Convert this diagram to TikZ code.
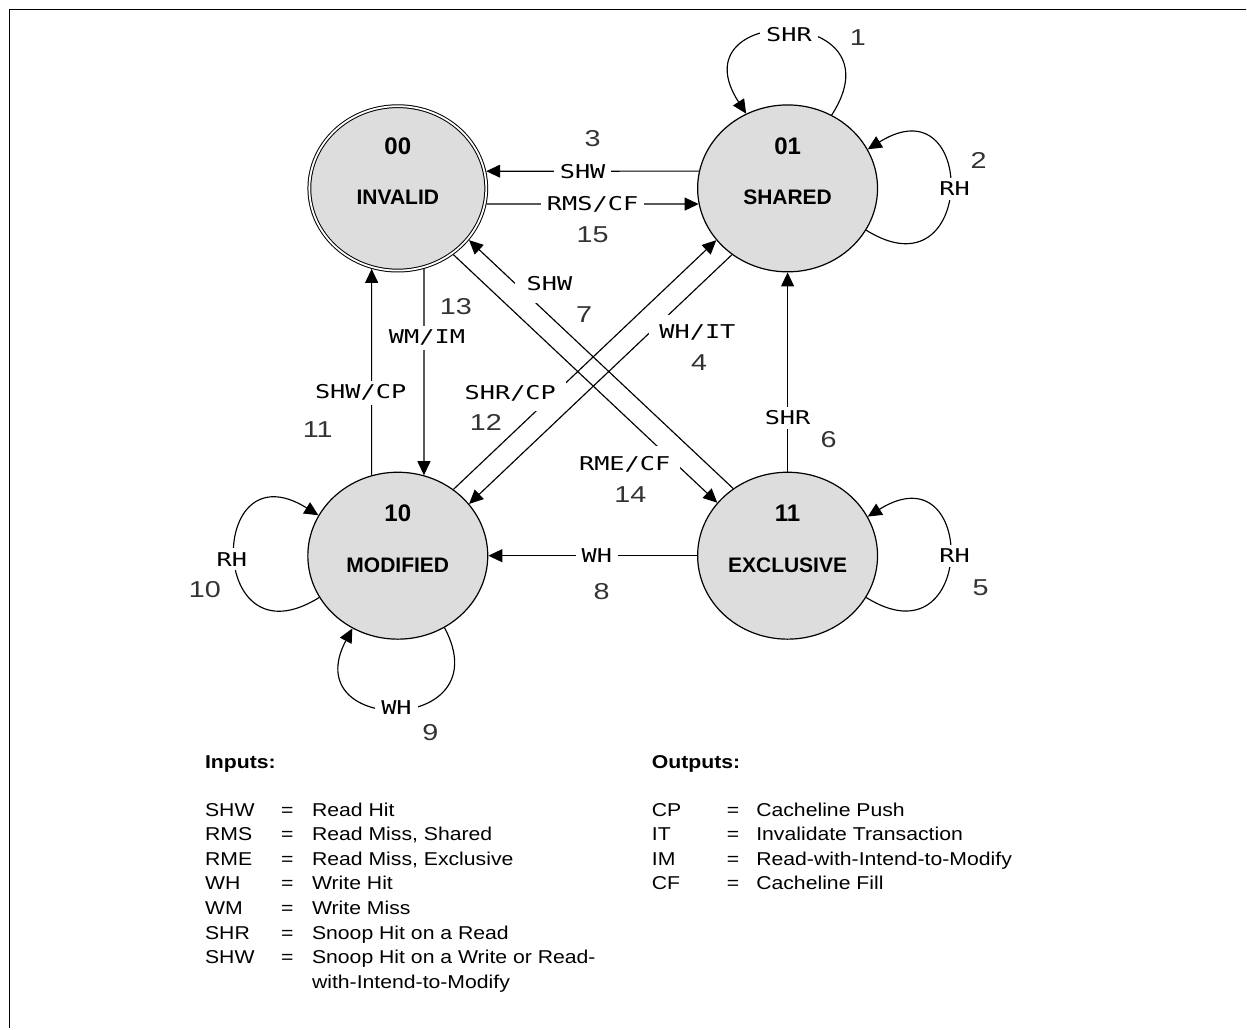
\documentclass[tikz,border=0pt]{standalone}
\usepackage{fontspec}
\setmainfont{Liberation Sans}
\newfontfamily\trfont[FakeStretch=1.33]{DejaVu Sans Mono}
\newfontfamily\nrfont[FakeStretch=1.25]{Liberation Sans}
\newfontfamily\lgfont[FakeStretch=1.14]{Liberation Sans}
\usetikzlibrary{arrows.meta, shapes.geometric}
\definecolor{stFill}{HTML}{DDDDDD}
\definecolor{nrGray}{HTML}{333333}
\tikzset{
  st-node/.style={
    ellipse, draw=black, line width=1.2pt, fill=stFill,
    minimum width=180pt, minimum height=167pt, inner sep=0pt,
    text height=33pt, text depth=0pt,
    font=\bfseries\fontsize{21}{24}\selectfont
  },
  st-code/.style={inner sep=0pt, font=\bfseries\fontsize{24}{28}\selectfont},
  tr-flow/.style={-{Triangle[length=14pt,width=13pt]}, line width=1.15pt},
  tr-lbl/.style={
    fill=white, inner xsep=6pt, inner ysep=4pt,
    font=\trfont\fontsize{19}{21}\selectfont
  },
  tr-nr/.style={inner sep=0pt, text=nrGray, font=\nrfont\fontsize{23}{26}\selectfont},
  lg-txt/.style={inner sep=0pt, anchor=base west, font=\lgfont\fontsize{18.6}{22}\selectfont},
}

\begin{document}
\begin{tikzpicture}[x=1pt, y=1pt]
  \fill[white] (0,0) rectangle (1247,1029);
  \draw[line width=1.3pt] (1247,1019.5) -- (9.5,1019.5) -- (9.5,0);

  % states
  \node[st-node, double, line width=1pt, double distance=1.8pt, outer sep=1.9pt,
        minimum width=177pt, minimum height=164.5pt] (inv) at (398,840.5) {INVALID};
  \node[st-node] (sh)  at (788,840.5) {SHARED};
  \node[st-node] (mod) at (398,473) {MODIFIED};
  \node[st-node] (ex)  at (788,473) {EXCLUSIVE};
  \node[st-code] (inv-code) at ([yshift=42pt]inv.center) {00};
  \node[st-code] (sh-code)  at ([yshift=42pt]sh.center)  {01};
  \node[st-code] (mod-code) at ([yshift=42pt]mod.center) {10};
  \node[st-code] (ex-code)  at ([yshift=42pt]ex.center)  {11};

  % transitions between states
  \draw[tr-flow] (sh.169) -- (inv.11)
    node[tr-lbl, pos=0.547] {SHW} node[tr-nr, pos=0.5, yshift=33pt] {3};
  \draw[tr-flow] (inv.-10.5) -- (sh.190.5)
    node[tr-lbl, pos=0.5] {RMS/CF} node[tr-nr, pos=0.5, yshift=-31pt] {15};
  \draw[tr-flow] (mod.108) -- (inv.-108)
    node[tr-lbl, pos=0.4, xshift=-11pt] {SHW/CP} node[tr-nr, pos=0.22, xshift=-54pt] {11};
  \draw[tr-flow] (inv.-72) -- (mod.72)
    node[tr-lbl, pos=0.334, xshift=3pt] {WM/IM} node[tr-nr, pos=0.184, xshift=32pt] {13};
  \draw[tr-flow] (ex.90) -- (sh.-90)
    node[tr-lbl, pos=0.27] {SHR} node[tr-nr, pos=0.16, xshift=41pt] {6};
  \draw[tr-flow] (ex.180) -- (mod.0)
    node[tr-lbl, pos=0.48] {WH} node[tr-nr, pos=0.457, yshift=-36pt] {8};
  \draw[tr-flow] (ex.129.5) -- (inv.-36.1)
    node[tr-lbl, pos=0.756, xshift=16pt, yshift=17pt, inner sep=12pt] {SHW}
    node[tr-nr, pos=0.629, xshift=17pt, yshift=18pt] {7};
  \draw[tr-flow] (inv.-50.5) -- (ex.143.9)
    node[tr-lbl, pos=0.74, xshift=-24pt, yshift=-26pt, inner sep=10pt] {RME/CF}
    node[tr-nr, pos=0.811, xshift=-37pt, yshift=-39pt] {14};
  \draw[tr-flow] (mod.50.5) -- (sh.216.1)
    node[tr-lbl, pos=0.296, xshift=-21pt, yshift=22.5pt, inner sep=10pt] {SHR/CP}
    node[tr-nr, pos=0.192, xshift=-18pt, yshift=19pt] {12};
  \draw[tr-flow] (sh.230.5) -- (mod.36.1)
    node[tr-lbl, pos=0.217, xshift=22.5pt, yshift=-24pt, inner sep=10pt] {WH/IT}
    node[tr-nr, pos=0.269, xshift=38pt, yshift=-41pt] {4};

  % self loops
  \draw[tr-flow] (sh.59.6) to[out=57, in=123, distance=132pt]
    node[tr-lbl, pos=0.5, yshift=-3pt] {SHR}
    node[tr-nr, pos=0.5, xshift=69pt, yshift=-6pt] {1} (sh.119.5);
  \draw[tr-flow] (sh.-28) to[out=-32, in=32, distance=130pt]
    node[tr-lbl, pos=0.5, xshift=5pt, yshift=1pt] {RH}
    node[tr-nr, pos=0.5, xshift=29pt, yshift=29pt] {2} (sh.26.6);
  \draw[tr-flow] (ex.-28) to[out=-32, in=32, distance=130pt]
    node[tr-lbl, pos=0.5, xshift=5pt, yshift=1pt] {RH}
    node[tr-nr, pos=0.5, xshift=31pt, yshift=-31pt] {5} (ex.26.6);
  \draw[tr-flow] (mod.208) to[out=-148, in=148, distance=132pt]
    node[tr-lbl, pos=0.5, xshift=-3pt, yshift=-3pt] {RH}
    node[tr-nr, pos=0.5, xshift=-30pt, yshift=-33pt] {10} (mod.153.4);
  \draw[tr-flow] (mod.-57) to[out=-62, in=-118, distance=122pt]
    node[tr-lbl, pos=0.5, xshift=-2pt, yshift=1.5pt] {WH}
    node[tr-nr, pos=0.5, xshift=32pt, yshift=-23.5pt] {9} (mod.-122);

  % legend
  \node[lg-txt, font=\lgfont\bfseries\fontsize{18.6}{22}\selectfont] (in-head) at (205,260.35) {Inputs:};
  \node[lg-txt, font=\lgfont\bfseries\fontsize{18.6}{22}\selectfont] (out-head) at (652,260.35) {Outputs:};
  \foreach \abbr/\desc [count=\i] in {SHW/Read Hit, RMS/{Read Miss, Shared},
      RME/{Read Miss, Exclusive}, WH/Write Hit, WM/Write Miss,
      SHR/Snoop Hit on a Read, SHW/Snoop Hit on a Write or Read-}
  {
    \node[lg-txt] (in-key-\i) at (205, 236.92-24.57*\i) {\abbr};
    \node[lg-txt, anchor=base] (in-eq-\i) at (287.5, 236.92-24.57*\i) {=};
    \node[lg-txt] (in-desc-\i) at (312, 236.92-24.57*\i) {\desc};
  }
  \node[lg-txt] (in-desc-8) at (312,40.35) {with-Intend-to-Modify};
  \foreach \abbr/\desc [count=\i] in {CP/Cacheline Push, IT/Invalidate Transaction,
      IM/Read-with-Intend-to-Modify, CF/Cacheline Fill}
  {
    \node[lg-txt] (out-key-\i) at (652, 236.92-24.57*\i) {\abbr};
    \node[lg-txt, anchor=base] (out-eq-\i) at (733.5, 236.92-24.57*\i) {=};
    \node[lg-txt] (out-desc-\i) at (756.5, 236.92-24.57*\i) {\desc};
  }
\end{tikzpicture}
\end{document}
